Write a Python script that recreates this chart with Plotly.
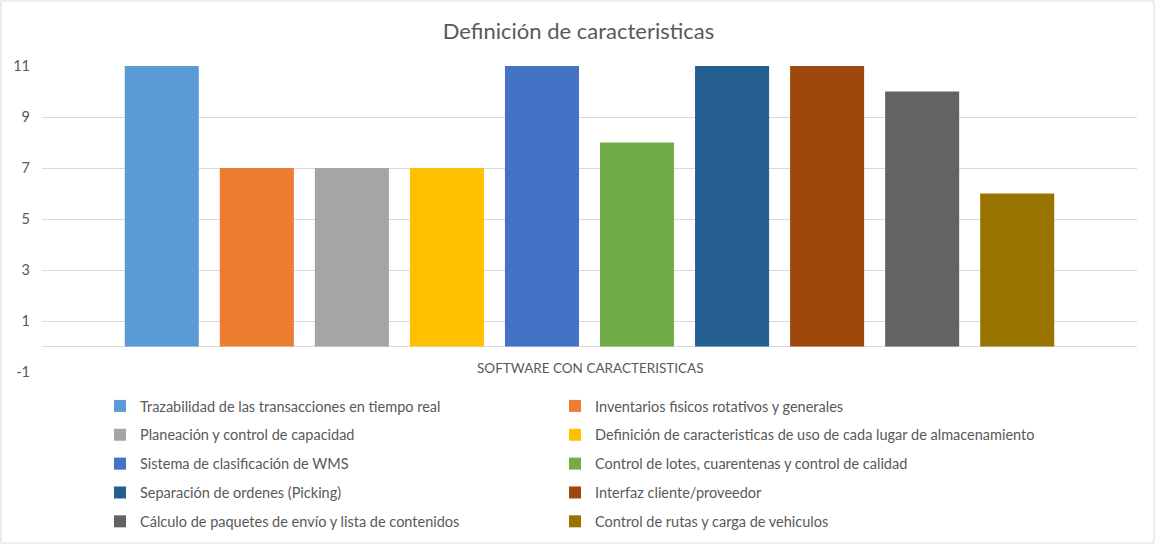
import plotly.graph_objects as go

category = ["SOFTWARE CON CARACTERISTICAS"]
series_names = [
    "Trazabilidad de las transacciones en tiempo real",
    "Inventarios fisicos rotativos y generales",
    "Planeación y control de capacidad",
    "Definición de caracteristicas de uso de cada lugar de almacenamiento",
    "Sistema de clasificación de WMS",
    "Control de lotes, cuarentenas y control de calidad",
    "Separación de ordenes (Picking)",
    "Interfaz cliente/proveedor",
    "Cálculo de paquetes de envío y lista de contenidos",
    "Control de rutas y carga de vehiculos",
]
values = [11, 7, 7, 7, 11, 8, 11, 11, 10, 6]
colors = ["#5B9BD5", "#ED7D31", "#A5A5A5", "#FFC000", "#4472C4",
          "#70AD47", "#255E91", "#9E480E", "#636363", "#997300"]
y_ticks = [-1, 1, 3, 5, 7, 9, 11]
y_tick_labels = ["-1", "1", "3", "5", "7", "9", "11"]

FONT = "Lato"
GRAY = "#595959"

fig = go.Figure()
for i, (name, v, c) in enumerate(zip(series_names, values, colors)):
    fig.add_trace(go.Bar(
        x=category, y=[v], name=name, marker_color=c,
        marker_line_width=0,
        legend="legend" if i % 2 == 0 else "legend2",
        legendgroup=f"g{i}",
    ))

W, H = 1155, 544
ml, mr, mt, mb = 42, 18, 66, 172
pw = W - ml - mr
ph = H - mt - mb

def px_x(x):
    return (x - ml) / pw

def px_y(y):
    return (H - mb - y) / ph

legend_common = dict(
    orientation="v", bgcolor="rgba(0,0,0,0)",
    font=dict(family=FONT, size=14.5, color=GRAY),
    tracegroupgap=7, itemwidth=30,
    xanchor="left", yanchor="top",
)

fig.update_layout(
    width=W, height=H,
    margin=dict(l=ml, r=mr, t=mt, b=mb, autoexpand=False),
    paper_bgcolor="white", plot_bgcolor="white",
    title=dict(text="Definición de caracteristicas", x=578.5 / W, xanchor="center",
               y=1 - 31 / H, yanchor="middle",
               font=dict(family=FONT, size=22, color=GRAY)),
    barmode="group", bargap=0.132, bargroupgap=0.221,
    showlegend=True,
    legend=dict(legend_common, x=px_x(100), y=px_y(390)),
    legend2=dict(legend_common, x=px_x(555), y=px_y(390)),
    xaxis=dict(showticklabels=False, showgrid=False, showline=False, ticks=""),
    yaxis=dict(range=[-1, 11], tickvals=y_ticks, ticktext=y_tick_labels,
               showgrid=True, ticklabelstandoff=11,
               gridcolor="#D9D9D9", gridwidth=1, zeroline=True,
               zerolinecolor="#D9D9D9", zerolinewidth=1, showline=False,
               ticks="", tickfont=dict(family=FONT, size=14.5, color=GRAY)),
)

fig.add_annotation(
    x=category[0], y=0, xref="x", yref="y", text=category[0],
    showarrow=False, yanchor="top", yshift=-11,
    font=dict(family=FONT, size=13.5, color=GRAY),
)

fig.add_shape(type="rect", xref="paper", yref="paper",
              x0=px_x(1), x1=px_x(1154), y0=px_y(543), y1=px_y(1),
              line=dict(color="#D9D9D9", width=1), fillcolor="rgba(0,0,0,0)",
              layer="below")

fig.write_html("out.html")
